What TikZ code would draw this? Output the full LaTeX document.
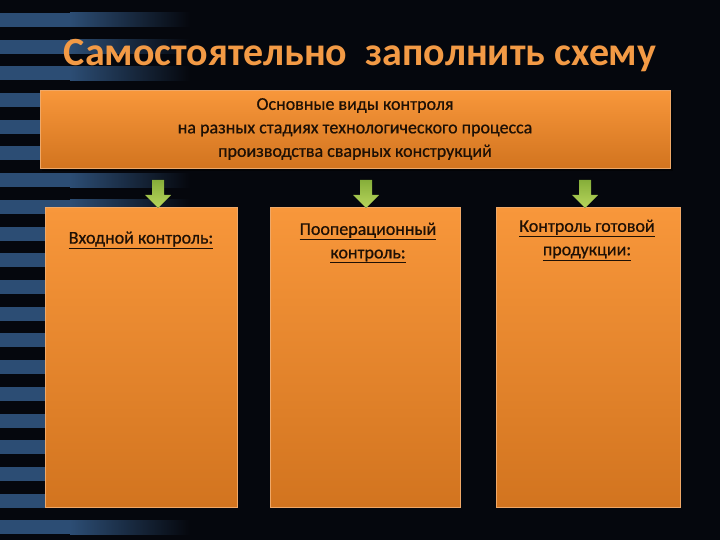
\documentclass[tikz,border=0pt]{standalone}
\usepackage{fontspec}
\setmainfont{Carlito}
\newfontfamily\semib[FakeBold=0.6]{Carlito}
\usetikzlibrary{calc}
\definecolor{bg}{HTML}{05070D}
\definecolor{stripe}{HTML}{2C4D74}
\definecolor{titleor}{HTML}{F39A45}
\definecolor{boxtop}{HTML}{F8973B}
\definecolor{boxbot}{HTML}{D2741F}
\definecolor{boxedge}{HTML}{EFA868}
\definecolor{txt}{HTML}{1E1005}
\definecolor{grtop}{HTML}{86AE3A}
\definecolor{grbot}{HTML}{B8D65C}
\tikzset{
  x=1pt,y=-1pt,
  panel/.style={draw=boxedge,line width=0.5pt,top color=boxtop,bottom color=boxbot,inner sep=0pt,anchor=north west},
  boxtext/.style={text=txt,font=\semib\fontsize{18}{23.5}\selectfont,align=center},
  greenarrow/.style={top color=grtop,bottom color=grbot,draw=none}
}
\begin{document}
\begin{tikzpicture}
\useasboundingbox (0,0) rectangle (720,540);
\fill[bg] (0,0) rectangle (720,540);
% left stripes
\foreach \i in {0,...,20}{
  \pgfmathsetmacro{\yy}{13+26.7*\i}
  \fill[stripe] (0,\yy) rectangle (70,\yy+14);
  \fill[left color=stripe,right color=bg] (70,\yy) rectangle (190,\yy+14);
}
% title
\node[text=titleor,font=\fontsize{40}{44}\selectfont\bfseries] (title) at (360,56) {Самостоятельно\ \ заполнить схему};
% top box
\fill[black,opacity=0.5] (42,92) rectangle (673,171);
\node[panel,minimum width=630pt,minimum height=78pt] (top) at (40,90) {};
\node[boxtext,font=\semib\fontsize{18}{23.5}\selectfont] (toptext) at (355,129) {Основные виды контроля\\на разных стадиях технологического процесса\\производства сварных конструкций};
% lower boxes
\node[panel,minimum width=192pt,minimum height=300pt] (b1) at (45,207) {};
\node[panel,minimum width=190pt,minimum height=300pt] (b2) at (270,207) {};
\node[panel,minimum width=184pt,minimum height=300pt] (b3) at (496,207) {};
\node[boxtext] (t1) at (141,240) {\underline{Входной контроль:}};
\node[boxtext] (t2) at (368,243) {\underline{Пооперационный}\\\underline{контроль:}};
\node[boxtext] (t3) at (587,240) {\underline{Контроль готовой}\\\underline{продукции:}};
% green block arrows
\foreach \n/\xx in {a1/158,a2/366,a3/585}{
  \coordinate (\n) at (\xx,180);
  \fill[greenarrow] ($(\n)+(-6,0)$) -- ($(\n)+(6,0)$) -- ($(\n)+(6,15)$) -- ($(\n)+(13,15)$) -- ($(\n)+(0,28)$) -- ($(\n)+(-13,15)$) -- ($(\n)+(-6,15)$) -- cycle;
}
\end{tikzpicture}
\end{document}
